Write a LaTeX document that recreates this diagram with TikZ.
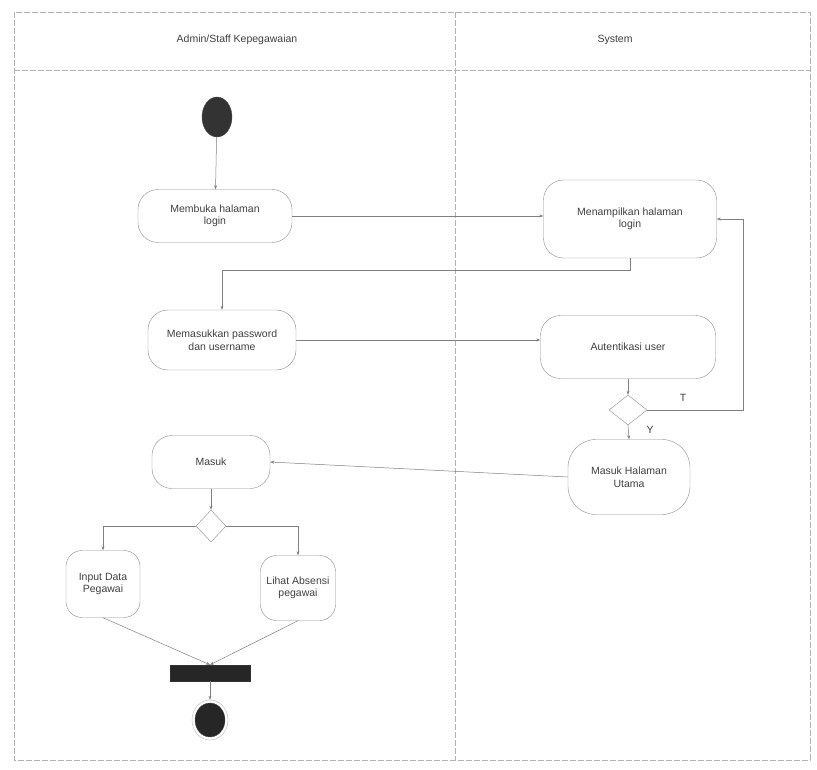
\documentclass[tikz,border=0pt]{standalone}
\usepackage{fontspec}
\setmainfont{Liberation Sans}
\usetikzlibrary{shapes.geometric,arrows.meta}
\begin{document}
\begin{tikzpicture}[x=1pt,y=-1pt,
  every node/.style={font=\fontsize{10.5}{12.5}\selectfont, text=black!75},
  act/.style={draw=black!45, rounded corners=20pt, align=center, inner sep=2pt},
  dec/.style={draw=black!45, diamond, minimum width=30pt, minimum height=30pt, inner sep=0pt},
  flow/.style={draw=black!50, line width=0.5pt, -{Stealth[length=4pt,width=3pt]}},
  lane/.style={draw=black!30, line width=0.5pt, dash pattern=on 6pt off 2pt}]
\useasboundingbox (0,0) rectangle (817,770);
\fill[white] (0,0) rectangle (817,770);
% swimlane frame
\draw[lane] (14,12) rectangle (810,760);
\draw[lane] (14,70) -- (810,70);
\draw[lane] (455,12) -- (455,760);
\node (h1) at (237,40) {Admin/Staff Kepegawaian};
\node (h2) at (615,40) {System};
% nodes
\node[draw=black!70, fill=black!80, ellipse, minimum width=30pt, minimum height=40pt, inner sep=0pt] (start) at (217,117) {};
\node[act, minimum width=154pt, minimum height=53pt] (buka) at (215,216) {Membuka halaman\\login};
\node[act, minimum width=173pt, minimum height=78pt] (tampil) at (630,219) {Menampilkan halaman\\login};
\node[act, minimum width=148pt, minimum height=60pt] (pass) at (222,340) {Memasukkan password\\dan username};
\node[act, minimum width=175pt, minimum height=63pt] (auth) at (628,347) {Autentikasi user};
\node[dec, minimum width=38pt, minimum height=30pt] (d1) at (628,410) {};
\node[act, minimum width=122pt, minimum height=75pt, rounded corners=28pt] (utama) at (629,477) {Masuk Halaman\\Utama};
\node[act, minimum width=118pt, minimum height=53pt] (masuk) at (211,462) {Masuk};
\node[dec, minimum width=30pt, minimum height=32pt] (d2) at (211,526) {};
\node[act, minimum width=74pt, minimum height=67pt, rounded corners=16pt] (input) at (103,584) {Input Data\\Pegawai};
\node[act, minimum width=75pt, minimum height=65pt, rounded corners=16pt] (lihat) at (298,588) {Lihat Absensi\\pegawai};
\node[draw=black!80, fill=black!85, minimum width=80pt, minimum height=16pt, inner sep=0pt] (bar) at (210,673) {};
\node[draw=black!70, fill=black!85, ellipse, minimum width=30pt, minimum height=34pt, inner sep=0pt] (end) at (210,720) {};
\node[draw=black!30, ellipse, minimum width=36pt, minimum height=40pt, inner sep=0pt] (endring) at (210,720) {};
% connectors
\draw[flow] (start) -- (buka);
\draw[flow] (buka.east) -- (buka.east -| tampil.west);
\draw[flow] (tampil.south) -- ++(0,12) -| (pass.north);
\draw[flow] (pass.east) -- (pass.east -| auth.west);
\draw[flow] (auth.south) -- (d1.north);
\draw[flow] (d1.east) -- ++(96,0) |- (tampil.east);
\node (t) at (683,398) {T};
\draw[flow] (d1.south) -- (utama.north);
\node (y) at (650,430) {Y};
\draw[flow] (utama.west) -- (masuk.east);
\draw[flow] (masuk.south) -- (d2.north);
\draw[flow] (d2.west) -| (input.north);
\draw[flow] (d2.east) -| (lihat.north);
\draw[flow] (input.south) -- (bar.north);
\draw[flow] (lihat.south) -- (bar.north);
\draw[flow] (bar.south) -- (endring.north);
\end{tikzpicture}
\end{document}
